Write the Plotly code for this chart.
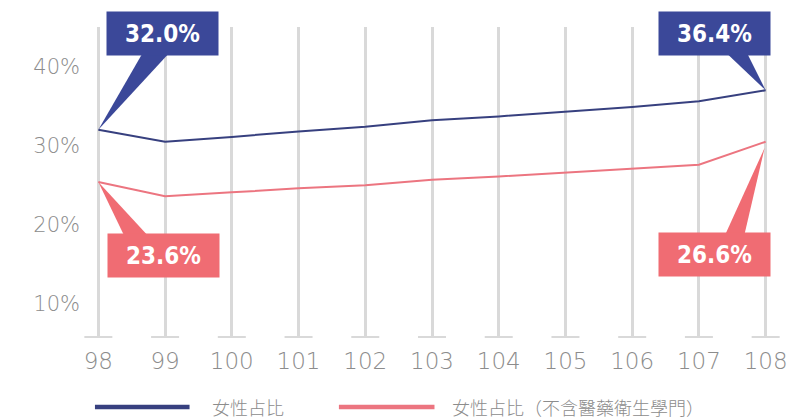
import plotly.graph_objects as go

# ---------------- data ----------------
years = [98, 99, 100, 101, 102, 103, 104, 105, 106, 107, 108]
female_share = [32.0, 30.5, 31.1, 31.8, 32.4, 33.2, 33.7, 34.3, 34.9, 35.6, 37.0]
female_share_excl_med = [25.4, 23.6, 24.1, 24.6, 25.0, 25.7, 26.1, 26.6, 27.1, 27.6, 30.5]
series_names = ["女性占比", "女性占比（不含醫藥衛生學門）"]
callout_texts_blue = ["32.0%", "36.4%"]
callout_texts_red = ["23.6%", "26.6%"]
y_ticks = [10, 20, 30, 40]
y_tick_labels = ["10%", "20%", "30%", "40%"]

# ---------------- styles ----------------
BLUE_LINE = "#37407f"
BLUE_BOX = "#3b4899"
RED_LINE = "#ec7580"
RED_BOX = "#f06c73"
GRID = "#d9d9d9"
TXT = "#8c8c8c"
W, H = 800, 420
ML, MR, MT, MB = 85, 18, 27, 83
PW, PH = W - ML - MR, H - MT - MB
X_RANGE = [97.8, 108.2]
Y_RANGE = [5.81, 45.0]


def px_x(px):
    return (px - ML) / PW


def px_y(py):
    return (H - MB - py) / PH


fig = go.Figure()

# foot marks at the bottom of each grid line
fig.add_trace(go.Scatter(
    x=years, y=[Y_RANGE[0]] * len(years), mode="markers",
    marker=dict(symbol="line-ew", size=20, line=dict(width=2, color=GRID), color=GRID),
    cliponaxis=False, hoverinfo="skip", showlegend=False))

fig.add_trace(go.Scatter(
    x=years, y=female_share, mode="lines", name=series_names[0],
    line=dict(color=BLUE_LINE, width=2), showlegend=False, cliponaxis=False))
fig.add_trace(go.Scatter(
    x=years, y=female_share_excl_med, mode="lines", name=series_names[1],
    line=dict(color=RED_LINE, width=2), showlegend=False, cliponaxis=False))

# ---------------- callouts ----------------
callouts = [
    (female_share, 0, callout_texts_blue[0], BLUE_BOX, (64, 96), (45, 72), 78, (0, 0)),
    (female_share, -1, callout_texts_blue[1], BLUE_BOX, (-51, 57), (-38, -18), 36, (0, 0)),
    (female_share_excl_med, 0, callout_texts_red[0], RED_BOX, (65, -73), (25, 48), -52, (0, 0)),
    (female_share_excl_med, -1, callout_texts_red[1], RED_BOX, (-51, -113), (-40, -21), -92, (-1, -6)),
]
annotations = []
shapes = []
for vals, i, txt, col, (sx, sy), (bx0, bx1), by, (ax_, ay_) in callouts:
    xv, yv = years[i], vals[i]
    shapes.append(dict(
        type="path", xref="x", yref="y", xsizemode="pixel", ysizemode="pixel",
        xanchor=xv, yanchor=yv,
        path=f"M {ax_} {ay_} L {bx0} {by} L {bx1} {by} Z",
        fillcolor=col, line=dict(width=0), layer="above"))
    annotations.append(dict(
        x=xv, y=yv, xref="x", yref="y", showarrow=False, xshift=sx, yshift=sy,
        text=f"<b>{txt}</b>", bgcolor=col, width=103, height=35, borderpad=4,
        font=dict(family="DejaVu Sans Condensed, DejaVu Sans", size=24, color="white"),
        align="center", valign="middle"))

# ---------------- custom legend ----------------
LEG_Y = 407
legend_items = [
    (series_names[0], BLUE_LINE, 95, 190, 211),
    (series_names[1], RED_LINE, 340, 436, 452),
]
for name, col, lx0, lx1, tx in legend_items:
    shapes.append(dict(type="line", xref="paper", yref="paper",
                       x0=px_x(lx0), x1=px_x(lx1), y0=px_y(LEG_Y), y1=px_y(LEG_Y),
                       line=dict(color=col, width=4.5)))
    annotations.append(dict(x=px_x(tx), y=px_y(LEG_Y), xref="paper", yref="paper",
                            xanchor="left", yanchor="middle", showarrow=False,
                            text=name, font=dict(family="Noto Sans CJK TC", size=18, color=TXT,
                                                 weight=300)))

fig.update_layout(
    width=W, height=H,
    margin=dict(l=ML, r=MR, t=MT, b=MB),
    paper_bgcolor="white", plot_bgcolor="white",
    showlegend=False,
    shapes=shapes, annotations=annotations,
    xaxis=dict(range=X_RANGE, tickmode="array", tickvals=years,
               ticktext=[str(y) for y in years],
               showgrid=True, gridcolor=GRID, gridwidth=2.5,
               zeroline=False, showline=False, ticks="",
               ticklabelstandoff=8,
               tickfont=dict(family="DejaVu Sans", size=23, color=TXT, weight=300)),
    yaxis=dict(range=Y_RANGE, tickmode="array", tickvals=y_ticks, ticktext=y_tick_labels,
               showgrid=False, zeroline=False, showline=False, ticks="",
               ticklabelstandoff=4,
               tickfont=dict(family="DejaVu Sans", size=21, color=TXT, weight=300)),
)

fig.write_html("out.html")
